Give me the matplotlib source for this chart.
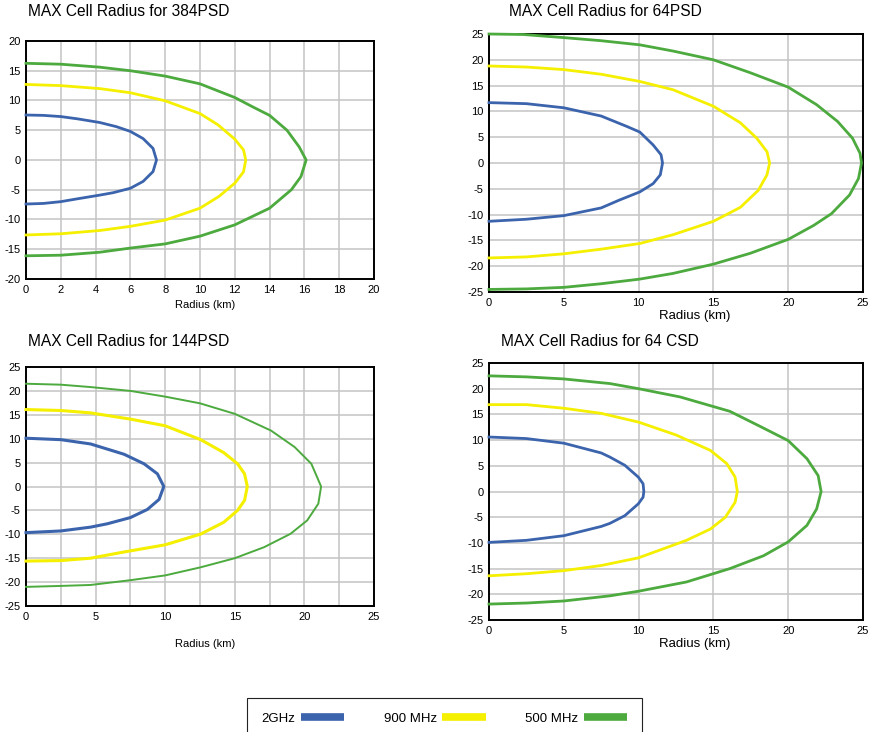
#!/usr/bin/env python3

import matplotlib
matplotlib.use('Agg')
from matplotlib import pyplot as plt
from matplotlib.lines import Line2D
from matplotlib.ticker import MultipleLocator

plt.rcParams['font.family'] = ['Liberation Sans', 'DejaVu Sans']
plt.rcParams['axes.unicode_minus'] = False

# Curves: (radius km, offset km), top branch -> tip -> bottom
p384_2g_x = [0, 1, 2, 3, 4.24, 5.2, 6, 6.73, 7.3, 7.5, 7.3, 6.73, 6, 5, 4.24, 3, 2, 1, 0]
p384_2g_y = [7.56, 7.5, 7.3, 6.9, 6.3, 5.6, 4.8, 3.6, 1.95, 0, -1.95, -3.6, -4.75, -5.5, -5.9,
             -6.5, -7.0, -7.3, -7.4]
p384_900_x = [0, 2, 4.24, 6, 8, 10, 11.04, 12, 12.5, 12.63, 12.5, 12, 11.1, 10, 8, 6, 4.24, 2, 0]
p384_900_y = [12.7, 12.5, 12.0, 11.3, 9.95, 7.8, 5.9, 3.5, 1.7, 0, -2.0, -3.9, -6.1, -8.1, -10.1,
              -11.15, -11.85, -12.4, -12.6]
p384_500_x = [0, 2, 4.24, 6, 8, 10, 12, 13.05, 14, 15, 15.7, 16.1, 15.8, 15.25, 14, 12, 10, 8, 6,
              4.24, 2, 0]
p384_500_y = [16.25, 16.1, 15.6, 15.0, 14.1, 12.8, 10.5, 8.9, 7.5, 5.0, 2.2, 0, -2.8, -5.0, -8.1,
              -10.9, -12.8, -14.1, -14.8, -15.5, -16.0, -16.1]

p64_2g_x = [0, 2.5, 5, 7.5, 9.2, 10.08, 10.97, 11.5, 11.6, 11.45, 10.97, 10.08, 8.7, 7.5, 5, 2.5, 0]
p64_2g_y = [11.7, 11.5, 10.7, 9.1, 7.1, 6.0, 3.5, 1.6, 0, -2.3, -4.0, -5.6, -7.2, -8.7, -10.2,
            -10.9, -11.3]
p64_900_x = [0, 2.5, 5, 7.5, 10.08, 12.3, 15, 16.8, 17.9, 18.58, 18.76, 18.58, 18.0, 16.8, 15,
             12.3, 10.08, 7.5, 5, 2.5, 0]
p64_900_y = [18.8, 18.6, 18.1, 17.2, 15.8, 14.2, 11.0, 7.8, 4.8, 2.2, 0, -2.3, -5.3, -8.6, -11.3,
             -13.9, -15.6, -16.7, -17.6, -18.2, -18.4]
p64_500_x = [0, 2.3, 5, 7.5, 10.08, 12.3, 15, 17.46, 20, 21.9, 23.3, 24.3, 24.8, 24.9, 24.7, 24.1,
             22.9, 21.7, 20, 17.46, 15, 12.3, 10.08, 7.5, 5, 2.5, 0]
p64_500_y = [25.0, 24.9, 24.3, 23.7, 22.9, 21.7, 20.0, 17.5, 14.7, 11.3, 8.05, 4.8, 1.9, 0, -3.0,
             -6.2, -9.8, -12.1, -14.8, -17.5, -19.6, -21.4, -22.5, -23.4, -24.1, -24.4, -24.5]

p144_2g_x = [0, 2.5, 4.64, 7.04, 8.48, 9.44, 9.9, 9.56, 8.72, 7.5, 5.84, 4.64, 2.5, 0]
p144_2g_y = [10.1, 9.8, 8.9, 6.75, 4.75, 2.65, 0, -2.7, -4.8, -6.5, -7.8, -8.5, -9.3, -9.65]
p144_900_x = [0, 2.5, 4.64, 7.5, 10, 12.55, 14.2, 15.2, 15.7, 15.9, 15.7, 15.2, 14.2, 12.55, 10,
              7.04, 4.64, 2.5, 0]
p144_900_y = [16.1, 15.9, 15.4, 14.1, 12.7, 9.8, 7.1, 4.75, 2.65, 0, -2.9, -5.0, -7.5, -9.95,
              -12.2, -13.7, -15.0, -15.5, -15.6]
p144_500_x = [0, 2.5, 4.64, 7.5, 10, 12.5, 15, 17.6, 19.3, 20.5, 21.2, 21.0, 20.2, 19.0, 17.1, 15,
              12.55, 10, 7.5, 4.64, 2.5, 0]
p144_500_y = [21.5, 21.3, 20.8, 20.0, 18.8, 17.4, 15.2, 11.7, 8.25, 4.75, 0, -3.6, -7.1, -9.9,
              -12.7, -15.0, -16.9, -18.6, -19.6, -20.6, -20.8, -21.0]

c64_2g_x = [0, 2.5, 5, 7.5, 8.08, 9.08, 9.98, 10.3, 10.35, 10.3, 9.98, 9.08, 8.08, 7.5, 5, 2.5, 0]
c64_2g_y = [10.6, 10.3, 9.4, 7.5, 6.7, 5.1, 2.8, 1.5, 0, -1.1, -2.4, -4.7, -6.2, -6.8, -8.6,
            -9.5, -9.9]
c64_900_x = [0, 2.5, 5, 7.5, 10, 12.5, 14.8, 15.9, 16.45, 16.6, 16.45, 15.8, 14.8, 13.2, 10, 7.5,
             5, 2.5, 0]
c64_900_y = [16.9, 16.9, 16.2, 15.2, 13.5, 11.0, 8.0, 5.4, 2.8, 0, -2.1, -5.0, -7.3, -9.5, -12.9,
             -14.4, -15.4, -16.0, -16.4]
c64_500_x = [0, 2.5, 5, 8.08, 10, 12.77, 16.1, 18.1, 20, 21.25, 22.0, 22.2, 21.9, 21.25, 20,
             18.35, 16.1, 13.2, 10, 8.08, 5, 2.5, 0]
c64_500_y = [22.5, 22.3, 21.9, 21.0, 20.0, 18.4, 15.6, 12.7, 9.9, 6.4, 3.1, 0, -3.4, -6.6, -9.8,
             -12.5, -15.0, -17.6, -19.4, -20.3, -21.3, -21.7, -21.9]

bands = ['2GHz', '900 MHz', '500 MHz']
band_colors = ['#3b64ad', '#f5ef00', '#4caa3e']

fig = plt.figure(figsize=(8.73, 7.32), dpi=100)


def panel(rect, title, title_xy, curves, lim, xstep, xminor, ylim, ystep,
          label_size, label_x, label_pad, widths):
    ax = fig.add_axes(rect)
    for (xs, ys), color, lw in zip(curves, band_colors, widths):
        ax.plot(xs, ys, color=color, lw=lw, clip_on=False, zorder=3,
                solid_joinstyle='round')
    ax.set_xlim(0, lim)
    ax.set_ylim(-ylim, ylim)
    ax.xaxis.set_major_locator(MultipleLocator(xstep))
    ax.yaxis.set_major_locator(MultipleLocator(ystep))
    if xminor:
        ax.xaxis.set_minor_locator(MultipleLocator(xminor))
        ax.grid(True, which='minor', axis='x', color='#c4c4c4', lw=1.1)
    ax.grid(True, which='major', color='#c4c4c4', lw=1.1)
    ax.set_axisbelow(True)
    ax.tick_params(which='both', length=0, labelsize=8, pad=4)
    for s in ax.spines.values():
        s.set_linewidth(1.4)
        s.set_color('black')
    ax.set_xlabel('Radius (km)', fontsize=label_size, x=label_x, labelpad=label_pad)
    fig.text(title_xy[0] / 873, 1 - title_xy[1] / 732, title, fontsize=11.2,
             ha='left', va='center')
    return ax


panel([26 / 873, 1 - 279 / 732, 348 / 873, 238 / 732], 'MAX Cell Radius for 384PSD', (28, 12),
      [(p384_2g_x, p384_2g_y), (p384_900_x, p384_900_y), (p384_500_x, p384_500_y)],
      20, 2, None, 20, 5, 8, 0.515, 4, [2.0, 2.0, 2.0])
panel([489 / 873, 1 - 292 / 732, 374 / 873, 258 / 732], 'MAX Cell Radius for 64PSD', (509, 12),
      [(p64_2g_x, p64_2g_y), (p64_900_x, p64_900_y), (p64_500_x, p64_500_y)],
      25, 5, None, 25, 5, 9.5, 0.55, 1.5, [2.0, 2.0, 2.0])
panel([26 / 873, 1 - 606 / 732, 348 / 873, 239 / 732], 'MAX Cell Radius for 144PSD', (28, 342),
      [(p144_2g_x, p144_2g_y), (p144_900_x, p144_900_y), (p144_500_x, p144_500_y)],
      25, 5, 2.5, 25, 5, 8, 0.515, 12.5, [2.2, 2.2, 1.4])
panel([489 / 873, 1 - 620 / 732, 374 / 873, 257 / 732], 'MAX Cell Radius for 64 CSD', (501, 342),
      [(c64_2g_x, c64_2g_y), (c64_900_x, c64_900_y), (c64_500_x, c64_500_y)],
      25, 5, None, 25, 5, 9.5, 0.55, 1.5, [2.0, 2.0, 2.0])

# Legend box along the bottom, label first then colour swatch
handles = [Line2D([], [], color=c, lw=5.5, solid_capstyle='butt') for c in band_colors]
leg = fig.legend(handles, bands, loc='upper left', bbox_to_anchor=(247 / 873, 1 - 698 / 732),
                 ncol=3, markerfirst=False, fontsize=9.5, frameon=True, fancybox=False,
                 framealpha=1, edgecolor='#222222', borderaxespad=0, borderpad=1.1,
                 handlelength=3.3, handletextpad=0.4, columnspacing=3.0)
leg.get_frame().set_linewidth(0.8)

plt.savefig('out.png', dpi=100)
